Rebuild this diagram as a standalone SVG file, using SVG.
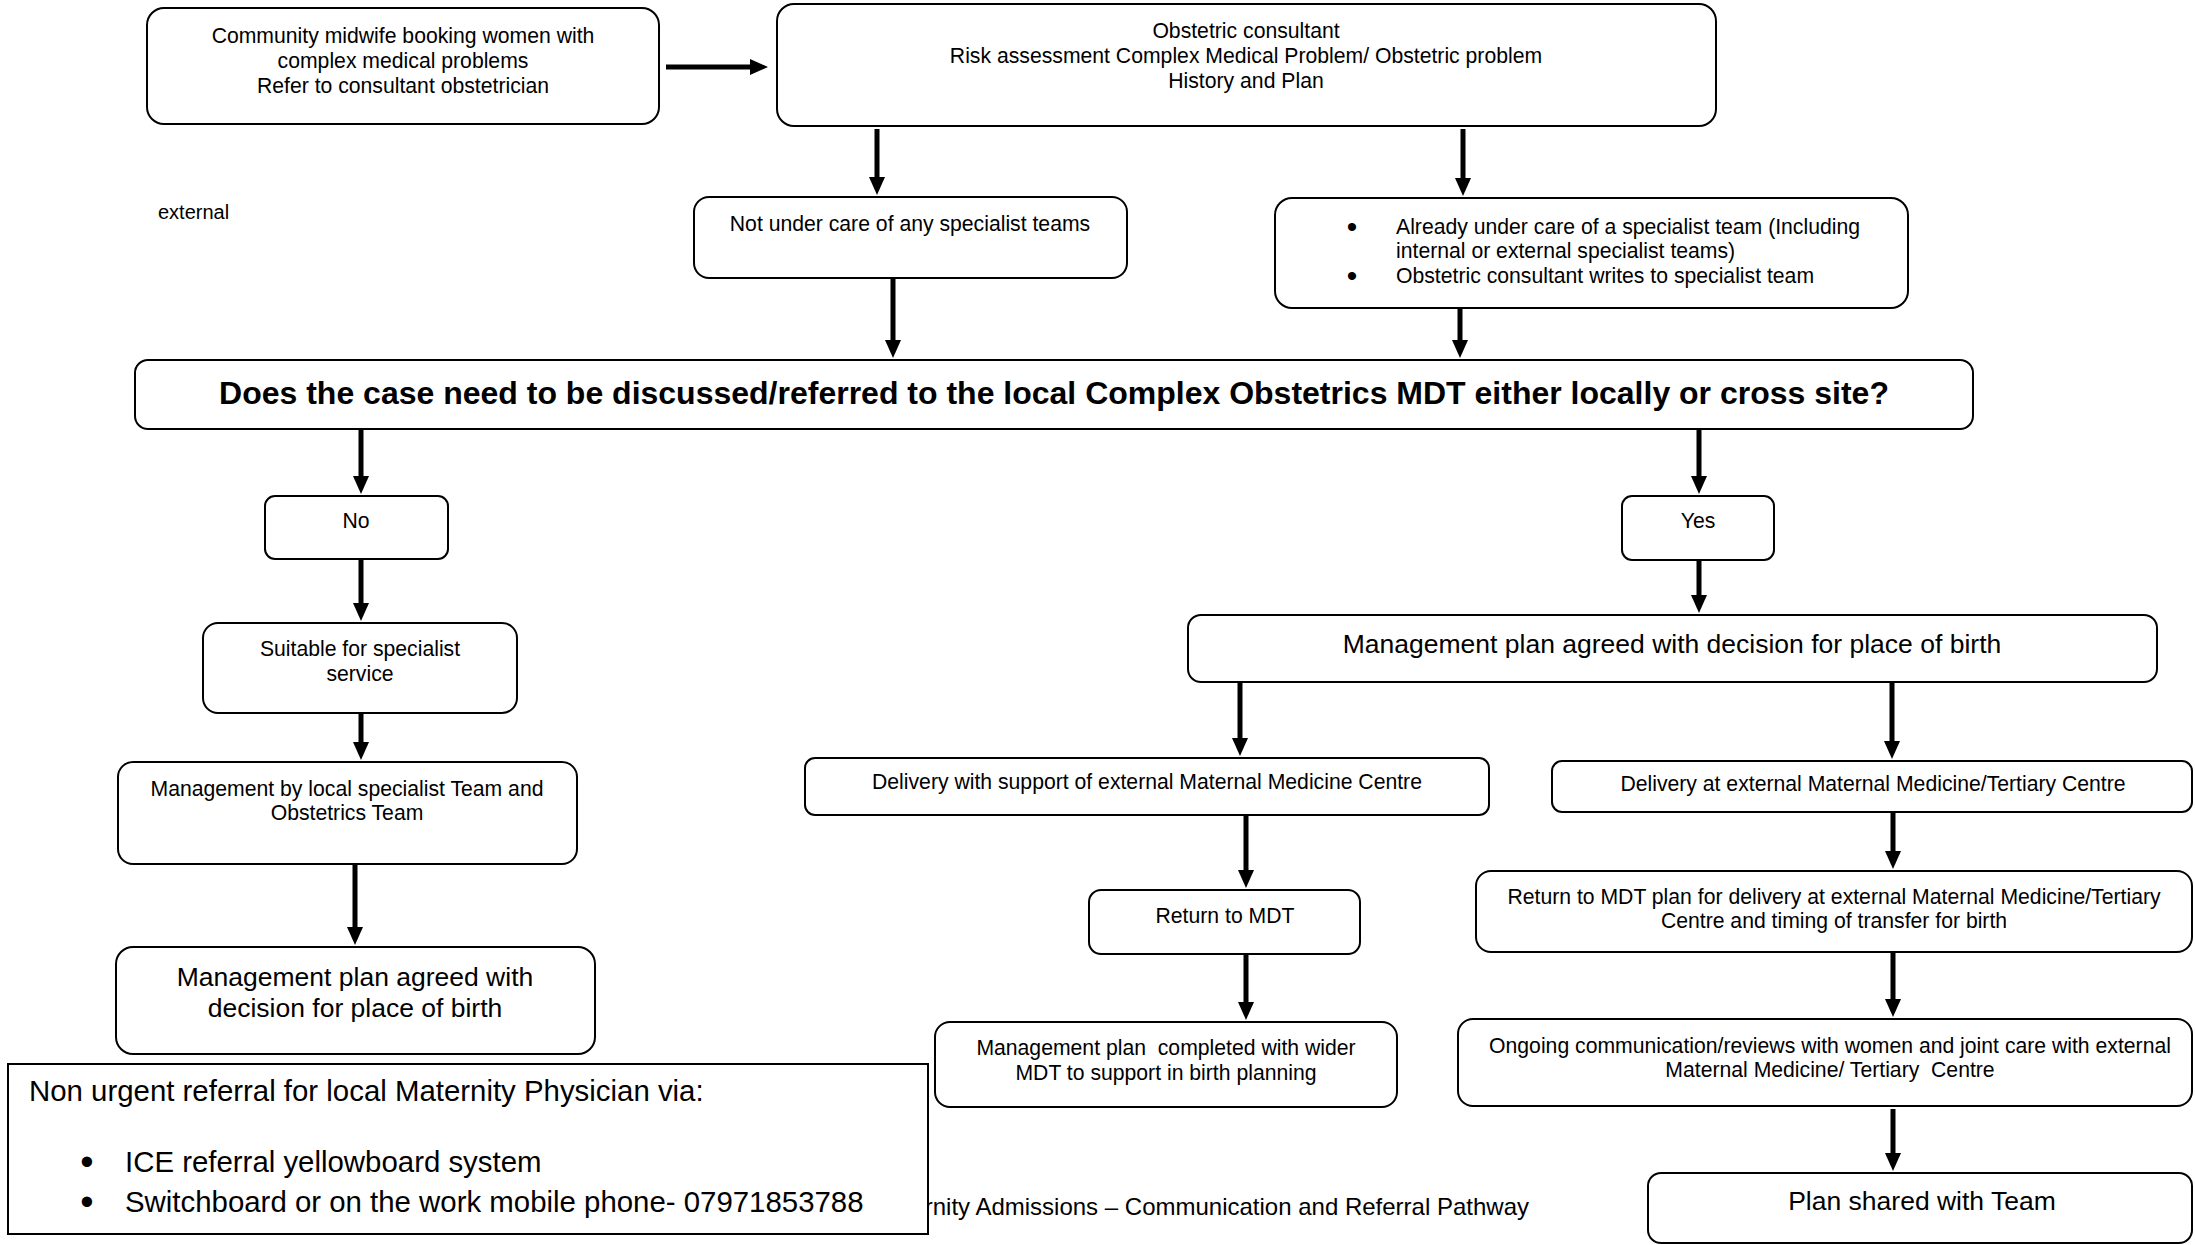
<svg xmlns="http://www.w3.org/2000/svg" width="2195" height="1245" viewBox="0 0 2195 1245">
<style>
.box{fill:#fff;stroke:#000;stroke-width:2}
.t{font-family:"Liberation Sans",Arial,sans-serif;font-size:21.2px;fill:#000;white-space:pre}
.c{text-anchor:middle}
.big{font-size:26.5px}
.q{font-size:32px;font-weight:bold}
.nu{font-size:29.4px}
.ft{font-size:24px}
.b1{font-size:30px}
.b2{font-size:38px}
.ex{font-family:"Liberation Sans",Arial,sans-serif;font-size:20px;fill:#000}
.ar{stroke:#000;stroke-width:5;fill:none;marker-end:url(#ah)}
</style>
<defs>
<marker id="ah" markerUnits="userSpaceOnUse" markerWidth="18" markerHeight="16" refX="6" refY="8" orient="auto">
<path d="M0,0 L18,8 L0,16 Z" fill="#000"/>
</marker>
</defs>
<rect width="2195" height="1245" fill="#fff"/>

<text class="t ft" x="1529" y="1215" text-anchor="end">Maternity Admissions – Communication and Referral Pathway</text>
<text class="ex" x="158" y="219">external</text>

<g id="connectors">
<line class="ar" x1="666" y1="67" x2="756" y2="67"/>
<line class="ar" x1="877" y1="129" x2="877" y2="183"/>
<line class="ar" x1="1463" y1="129" x2="1463" y2="184"/>
<line class="ar" x1="893" y1="279" x2="893" y2="346"/>
<line class="ar" x1="1460" y1="307" x2="1460" y2="346"/>
<line class="ar" x1="361" y1="429" x2="361" y2="482"/>
<line class="ar" x1="361" y1="559" x2="361" y2="609"/>
<line class="ar" x1="361" y1="713" x2="361" y2="748"/>
<line class="ar" x1="355" y1="864" x2="355" y2="933"/>
<line class="ar" x1="1699" y1="429" x2="1699" y2="482"/>
<line class="ar" x1="1699" y1="560" x2="1699" y2="601"/>
<line class="ar" x1="1240" y1="682" x2="1240" y2="744"/>
<line class="ar" x1="1892" y1="682" x2="1892" y2="747"/>
<line class="ar" x1="1246" y1="815" x2="1246" y2="876"/>
<line class="ar" x1="1246" y1="954" x2="1246" y2="1008"/>
<line class="ar" x1="1893" y1="813" x2="1893" y2="857"/>
<line class="ar" x1="1893" y1="952" x2="1893" y2="1005"/>
<line class="ar" x1="1893" y1="1109" x2="1893" y2="1159"/>
</g>

<g id="n-community">
<rect class="box" x="147" y="8" width="512" height="116" rx="17"/>
<text class="t c" x="403" y="43">Community midwife booking women with</text>
<text class="t c" x="403" y="68">complex medical problems</text>
<text class="t c" x="403" y="93">Refer to consultant obstetrician</text>
</g>

<g id="n-obstetric">
<rect class="box" x="777" y="4" width="939" height="122" rx="17"/>
<text class="t c" x="1246" y="38">Obstetric consultant</text>
<text class="t c" x="1246" y="63">Risk assessment Complex Medical Problem/ Obstetric problem</text>
<text class="t c" x="1246" y="88">History and Plan</text>
</g>

<g id="n-notunder">
<rect class="box" x="694" y="197" width="433" height="81" rx="15"/>
<text class="t c" x="910" y="231">Not under care of any specialist teams</text>
</g>

<g id="n-already">
<rect class="box" x="1275" y="198" width="633" height="110" rx="17"/>
<text class="t c b1" x="1352" y="237">•</text>
<text class="t" x="1396" y="234">Already under care of a specialist team (Including</text>
<text class="t" x="1396" y="258">internal or external specialist teams)</text>
<text class="t c b1" x="1352" y="286">•</text>
<text class="t" x="1396" y="283">Obstetric consultant writes to specialist team</text>
</g>

<g id="n-question">
<rect class="box" x="135" y="360" width="1838" height="69" rx="13"/>
<text class="t c q" x="1054" y="404">Does the case need to be discussed/referred to the local Complex Obstetrics MDT either locally or cross site?</text>
</g>

<g id="n-no">
<rect class="box" x="265" y="496" width="183" height="63" rx="10"/>
<text class="t c" x="356" y="528">No</text>
</g>

<g id="n-suitable">
<rect class="box" x="203" y="623" width="314" height="90" rx="15"/>
<text class="t c" x="360" y="656">Suitable for specialist</text>
<text class="t c" x="360" y="681">service</text>
</g>

<g id="n-mgmt-local">
<rect class="box" x="118" y="762" width="459" height="102" rx="15"/>
<text class="t c" x="347" y="796">Management by local specialist Team and</text>
<text class="t c" x="347" y="820">Obstetrics Team</text>
</g>

<g id="n-plan-left">
<rect class="box" x="116" y="947" width="479" height="107" rx="17"/>
<text class="t c big" x="355" y="986">Management plan agreed with</text>
<text class="t c big" x="355" y="1017">decision for place of birth</text>
</g>

<g id="n-nonurgent">
<rect x="8" y="1064" width="920" height="170" fill="#fff" stroke="#000" stroke-width="2"/>
<text class="t nu" x="29" y="1101">Non urgent referral for local Maternity Physician via:</text>
<text class="t b2 c" x="87" y="1175">•</text>
<text class="t nu" x="125" y="1172">ICE referral yellowboard system</text>
<text class="t b2 c" x="87" y="1215">•</text>
<text class="t nu" x="125" y="1212">Switchboard or on the work mobile phone- 07971853788</text>
</g>

<g id="n-yes">
<rect class="box" x="1622" y="496" width="152" height="64" rx="10"/>
<text class="t c" x="1698" y="528">Yes</text>
</g>

<g id="n-plan-right">
<rect class="box" x="1188" y="615" width="969" height="67" rx="13"/>
<text class="t c big" x="1672" y="653">Management plan agreed with decision for place of birth</text>
</g>

<g id="n-delivery-support">
<rect class="box" x="805" y="758" width="684" height="57" rx="10"/>
<text class="t c" x="1147" y="789">Delivery with support of external Maternal Medicine Centre</text>
</g>

<g id="n-delivery-external">
<rect class="box" x="1552" y="761" width="640" height="51" rx="10"/>
<text class="t c" x="1873" y="791">Delivery at external Maternal Medicine/Tertiary Centre</text>
</g>

<g id="n-return-mdt">
<rect class="box" x="1089" y="890" width="271" height="64" rx="12"/>
<text class="t c" x="1225" y="923">Return to MDT</text>
</g>

<g id="n-mgmt-completed">
<rect class="box" x="935" y="1022" width="462" height="85" rx="15"/>
<text class="t c" x="1166" y="1055">Management plan  completed with wider</text>
<text class="t c" x="1166" y="1080">MDT to support in birth planning</text>
</g>

<g id="n-return-mdt-plan">
<rect class="box" x="1476" y="871" width="716" height="81" rx="15"/>
<text class="t c" x="1834" y="904">Return to MDT plan for delivery at external Maternal Medicine/Tertiary</text>
<text class="t c" x="1834" y="928">Centre and timing of transfer for birth</text>
</g>

<g id="n-ongoing">
<rect class="box" x="1458" y="1019" width="734" height="87" rx="15"/>
<text class="t c" x="1830" y="1053">Ongoing communication/reviews with women and joint care with external</text>
<text class="t c" x="1830" y="1077">Maternal Medicine/ Tertiary  Centre</text>
</g>

<g id="n-plan-shared">
<rect class="box" x="1648" y="1173" width="544" height="70" rx="13"/>
<text class="t c big" x="1922" y="1210">Plan shared with Team</text>
</g>
</svg>
